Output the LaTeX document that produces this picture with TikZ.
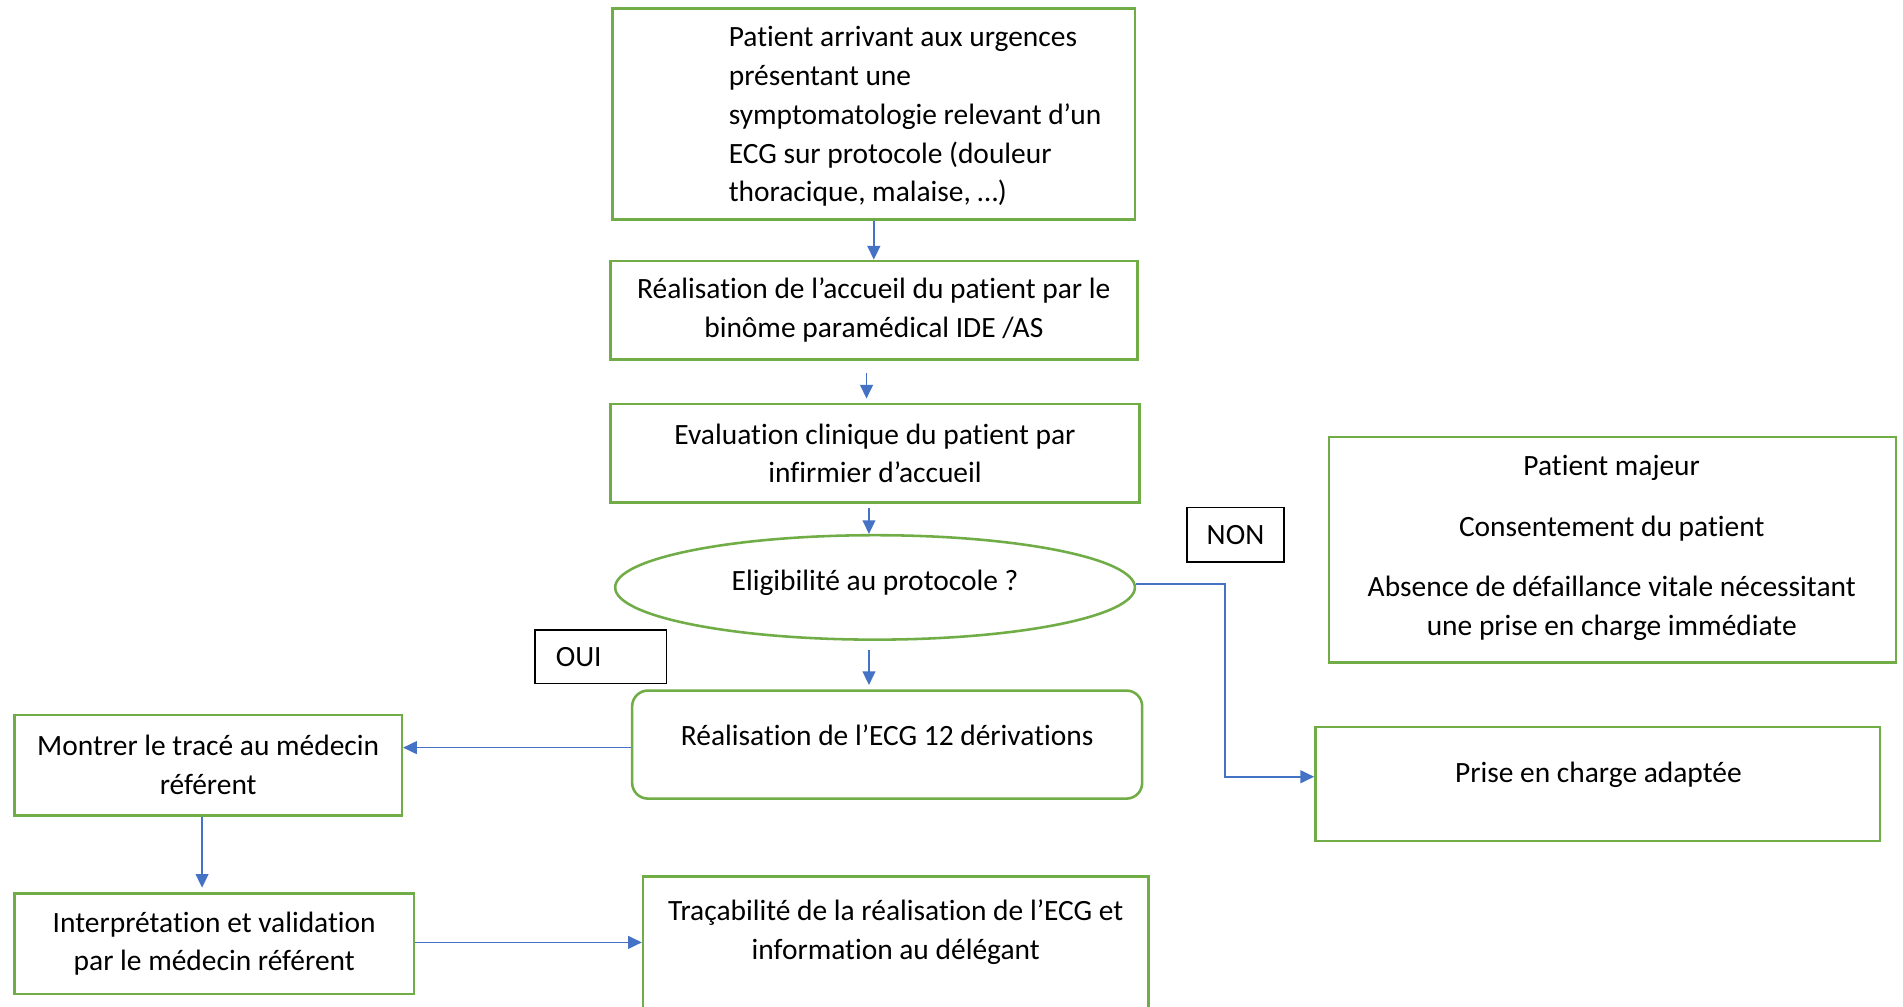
\documentclass[tikz,border=0pt]{standalone}
\usepackage{fontspec}
\setmainfont[Ligatures=NoCommon]{Carlito}
\usepackage{tikz}
\usetikzlibrary{calc,arrows.meta,shapes.geometric}
\definecolor{vertbox}{HTML}{70AD47}
\definecolor{bleufleche}{HTML}{4472C4}
\tikzset{
	greenbox/.style={draw=vertbox, line width=0.6pt, rectangle, inner sep=0pt},
	labelbox/.style={draw=black, line width=0.35pt, rectangle, inner sep=0pt},
	txt/.style={align=center, inner sep=0pt, font=\fontsize{6.9}{9.1}\selectfont},
	fleche/.style={draw=bleufleche, line width=0.35pt, -{Triangle[length=3.2pt, width=3pt]}, color=bleufleche}
}

\begin{document}
\begin{tikzpicture}[x=0.01cm, y=-0.01cm, font=\fontsize{6.9}{9.1}\selectfont]
		%%%%% START %%%%%
		\clip (0,0) rectangle (1568,829);
		\fill[white] (0,0) rectangle (1568,829);
		
		% colonne centrale
		\node[greenbox, minimum width=4.30cm, minimum height=1.74cm] (arrivee) at (720,94) {};
		\node[txt, align=left, anchor=west] (arriveetxt) at ($(arrivee.west)+(96,2)$) {Patient arrivant aux urgences\\présentant une\\symptomatologie relevant d’un\\ECG sur protocole (douleur\\thoracique, malaise, …)};
		
		\node[greenbox, txt, minimum width=4.34cm, minimum height=0.81cm] (accueil) at (720,255.5) {Réalisation de l’accueil du patient par le\\binôme paramédical IDE /AS};
		\node[greenbox, txt, minimum width=4.36cm, minimum height=0.81cm] (evaluation) at (721,373.5) {Evaluation clinique du patient par\\infirmier d’accueil};
		
		\node[draw=vertbox, line width=0.6pt, ellipse, inner sep=0pt, minimum width=4.28cm, minimum height=0.86cm] (eligib) at (721,484) {};
		\node[txt] (eligibtxt) at (721,480) {Eligibilité au protocole ?};
		
		\node[greenbox, rounded corners=1.3mm, minimum width=4.20cm, minimum height=0.89cm] (ecg) at (731,613.5) {};
		\node[txt] (ecgtxt) at (731,606) {Réalisation de l’ECG 12 dérivations};
		
		% etiquettes
		\node[labelbox, txt, align=left, text width=0.74cm, inner xsep=0.17cm, minimum height=0.44cm] (oui) at (495,541) {\raisebox{-0.07cm}{OUI}};
		\node[labelbox, txt, minimum width=0.80cm, minimum height=0.45cm] (non) at (1018,440.5) {NON};
		
		% droite
		\node[greenbox, minimum width=4.67cm, minimum height=1.86cm] (criteres) at (1328.5,453) {};
		\node[txt] (criterestxt) at (1328,451.5) {Patient majeur\\[0.18cm]Consentement du patient\\[0.18cm]Absence de défaillance vitale nécessitant\\une prise en charge immédiate};
		
		\node[greenbox, minimum width=4.65cm, minimum height=0.94cm] (prise) at (1316.5,646) {};
		\node[txt] (prisetxt) at (1317,638) {Prise en charge adaptée};
		
		% gauche et bas
		\node[greenbox, txt, minimum width=3.19cm, minimum height=0.83cm] (montrer) at (171.5,630.5) {Montrer le tracé au médecin\\référent};
		\node[greenbox, txt, minimum width=3.29cm, minimum height=0.83cm] (interp) at (176.5,777.5) {Interprétation et validation\\par le médecin référent};
		
		\node[greenbox, minimum width=4.16cm, minimum height=1.36cm] (trac) at (738,790) {};
		\node[txt] (tractxt) at (738,768) {Traçabilité de la réalisation de l’ECG et\\information au délégant};
		
		% fleches
		\draw[fleche] (arrivee.south) -- (accueil.north);
		\draw[fleche, shorten <=3pt, shorten >=1pt] ($(accueil.south)+(-6,0)$) -- ($(evaluation.north)+(-7,0)$);
		\draw[fleche, shorten <=1pt] ($(evaluation.south)+(-5,0)$) -- ($(eligib.north)+(-5,0)$);
		\draw[fleche, shorten <=1pt, shorten >=1pt] ($(eligib.south)+(-5,4)$) -- ($(ecg.north)+(-15,0)$);
		\draw[fleche] ($(eligib.east)+(0,-3)$) -- ++(73,0) coordinate (coude) |- ($(prise.west)+(0,-6)$);
		\draw[fleche] ($(ecg.west)+(0,2.5)$) coordinate (ecgout) -- (ecgout -| montrer.east);
		\draw[fleche, shorten >=1pt] ($(montrer.south)+(-5,0)$) coordinate (montrerout) -- (montrerout |- interp.north);
		\draw[fleche] ($(interp.east)+(0,-1)$) coordinate (interpout) -- (interpout -| trac.west);
		
		%%%%% END %%%%%
\end{tikzpicture}
\end{document}
